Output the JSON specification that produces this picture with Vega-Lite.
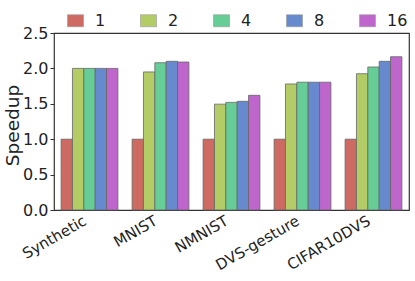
{
  "$schema": "https://vega.github.io/schema/vega-lite/v6.json",
  "width": 355,
  "height": 177,
  "autosize": "none",
  "padding": {"left": 54, "top": 33, "right": 6, "bottom": 71},
  "background": "white",
  "config": {
    "font": "DejaVu Sans",
    "view": {"stroke": "#333333", "strokeWidth": 1.2},
    "axis": {"grid": false, "labelFont": "DejaVu Sans", "titleFont": "DejaVu Sans", "labelColor": "#222", "titleColor": "#222", "domain": false, "tickColor": "#333"}
  },
  "data": {
    "values": [
      {"dataset": "Synthetic", "n": "1", "speedup": 1.0},
      {"dataset": "Synthetic", "n": "2", "speedup": 2.0},
      {"dataset": "Synthetic", "n": "4", "speedup": 2.0},
      {"dataset": "Synthetic", "n": "8", "speedup": 2.0},
      {"dataset": "Synthetic", "n": "16", "speedup": 2.0},
      {"dataset": "MNIST", "n": "1", "speedup": 1.0},
      {"dataset": "MNIST", "n": "2", "speedup": 1.95},
      {"dataset": "MNIST", "n": "4", "speedup": 2.08},
      {"dataset": "MNIST", "n": "8", "speedup": 2.1},
      {"dataset": "MNIST", "n": "16", "speedup": 2.09},
      {"dataset": "NMNIST", "n": "1", "speedup": 1.0},
      {"dataset": "NMNIST", "n": "2", "speedup": 1.495},
      {"dataset": "NMNIST", "n": "4", "speedup": 1.52},
      {"dataset": "NMNIST", "n": "8", "speedup": 1.535},
      {"dataset": "NMNIST", "n": "16", "speedup": 1.62},
      {"dataset": "DVS-gesture", "n": "1", "speedup": 1.0},
      {"dataset": "DVS-gesture", "n": "2", "speedup": 1.78},
      {"dataset": "DVS-gesture", "n": "4", "speedup": 1.805},
      {"dataset": "DVS-gesture", "n": "8", "speedup": 1.805},
      {"dataset": "DVS-gesture", "n": "16", "speedup": 1.805},
      {"dataset": "CIFAR10DVS", "n": "1", "speedup": 1.0},
      {"dataset": "CIFAR10DVS", "n": "2", "speedup": 1.925},
      {"dataset": "CIFAR10DVS", "n": "4", "speedup": 2.02},
      {"dataset": "CIFAR10DVS", "n": "8", "speedup": 2.1},
      {"dataset": "CIFAR10DVS", "n": "16", "speedup": 2.165}
    ]
  },
  "mark": {"type": "bar", "stroke": "#666666", "strokeWidth": 0.8},
  "encoding": {
    "x": {
      "field": "dataset", "type": "nominal",
      "sort": ["Synthetic", "MNIST", "NMNIST", "DVS-gesture", "CIFAR10DVS"],
      "scale": {"paddingInner": 0.2, "paddingOuter": 0.1},
      "axis": {"title": null, "labelAngle": -30, "labelAlign": "right", "labelBaseline": "top", "labelFontSize": 15, "ticks": false, "labelPadding": 3, "labelOffset": -8}
    },
    "xOffset": {"field": "n", "type": "nominal", "sort": ["1", "2", "4", "8", "16"], "scale": {"paddingInner": 0, "paddingOuter": 0}},
    "y": {
      "field": "speedup", "type": "quantitative",
      "scale": {"domain": [0, 2.5], "nice": false},
      "axis": {"title": "Speedup", "titleFontSize": 18.5, "titleFontWeight": "normal", "labelFontSize": 16, "values": [0, 0.5, 1, 1.5, 2, 2.5], "format": ".1f", "tickSize": 4, "labelPadding": 2, "titlePadding": 0, "titleY": 92}
    },
    "color": {
      "field": "n", "type": "nominal", "sort": ["1", "2", "4", "8", "16"],
      "scale": {"range": ["#cd6b63", "#b3cc66", "#66cd96", "#668acd", "#bf66cd"]},
      "legend": {
        "title": null, "orient": "none", "legendX": 13, "legendY": -21, "direction": "horizontal", "columns": 5,
        "symbolType": "M-1,-0.75H1V0.75H-1Z", "symbolSize": 256, "symbolStrokeColor": "#999", "symbolStrokeWidth": 0.6, "symbolOpacity": 1,
        "labelFontSize": 16, "labelOffset": 11, "columnPadding": 33, "labelColor": "#222"
      }
    }
  }
}
